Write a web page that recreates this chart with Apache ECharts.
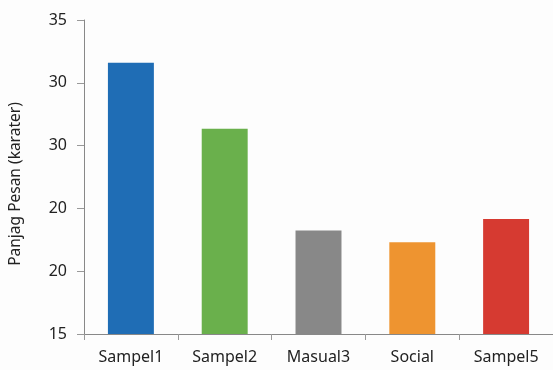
<!DOCTYPE html>
<html><head><meta charset="utf-8">
<script src="https://cdn.jsdelivr.net/npm/echarts@6/dist/echarts.min.js"></script>
<style>html,body{margin:0;padding:0;background:#fff}#c{width:553px;height:370px}</style>
</head><body><div id="c"></div>
<script>
const categories = ["Sampel1", "Sampel2", "Masual3", "Social", "Sampel5"];
// values expressed in tick-step units above the bottom tick
const values = [4.32, 3.27, 1.65, 1.46, 1.83];
const colors = ["#1f6db5", "#6ab04c", "#888888", "#ee9430", "#d63a31"];
const tickLabels = ["15", "20", "20", "30", "30", "35"];
const yName = "Panjag Pesan (karater)";

const chart = echarts.init(document.getElementById('c'));
chart.setOption({
  animation: false,
  backgroundColor: '#fdfdfd',
  textStyle: { fontFamily: 'Noto Sans' },
  grid: { left: 81, right: -2, top: 20, bottom: 36 },
  xAxis: {
    type: 'category',
    data: categories,
    axisLine: { lineStyle: { color: '#888', width: 1 } },
    axisTick: { show: true, length: 6, lineStyle: { color: '#999' } },
    axisLabel: { color: '#222', fontSize: 16, margin: 15, fontFamily: 'Noto Sans' }
  },
  yAxis: {
    type: 'value',
    min: 0, max: 5, interval: 1,
    name: yName,
    nameLocation: 'middle',
    nameGap: 60,
    nameTextStyle: { color: '#222', fontSize: 15.5, fontFamily: 'Noto Sans', padding: [0, 14, 0, 0] },
    axisLine: { show: true, lineStyle: { color: '#888', width: 1 } },
    axisTick: { show: true, length: 7, lineStyle: { color: '#999' } },
    splitLine: { show: false },
    axisLabel: {
      color: '#222', fontSize: 16, margin: 17, fontFamily: 'Noto Sans',
      formatter: v => tickLabels[Math.round(v)]
    }
  },
  series: [{
    type: 'bar',
    barWidth: '49%',
    data: values.map((v, i) => ({ value: v, itemStyle: { color: colors[i] } }))
  }]
});
</script></body></html>
